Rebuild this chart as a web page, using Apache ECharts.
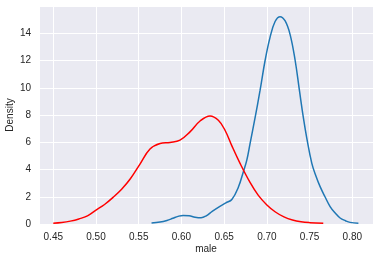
<!DOCTYPE html>
<html>
<head>
<meta charset="utf-8">
<script src="https://cdn.jsdelivr.net/npm/echarts@6/dist/echarts.min.js"></script>
<style>html,body{margin:0;padding:0;background:#fff}#c{width:380px;height:260px}</style>
</head>
<body>
<div id="c"></div>
<script>
var blueX = [0.565,0.575,0.583,0.590,0.596,0.602,0.609,0.616,0.623,0.629,0.636,0.645,0.652,0.659,0.6666,0.6725,0.6765,0.6803,0.6862,0.692,0.6979,0.7037,0.7096,0.7155,0.7214,0.7272,0.7331,0.7381,0.7427,0.7467,0.7526,0.7575,0.7623,0.768,0.774,0.780,0.7857,0.792,0.7974,0.8071];
var blueY = [0.07,0.14,0.26,0.42,0.56,0.63,0.60,0.50,0.46,0.60,0.93,1.30,1.55,1.80,2.70,3.84,4.69,5.90,7.80,9.80,12.0,13.7,14.86,15.22,14.9,13.9,12.0,9.8,7.8,6.3,4.45,3.5,2.74,2.0,1.28,0.8,0.44,0.24,0.12,0.06];
var redX = [0.450,0.460,0.470,0.480,0.490,0.500,0.510,0.520,0.530,0.540,0.5515,0.5632,0.575,0.5866,0.5983,0.610,0.6218,0.6335,0.6432,0.651,0.6589,0.6686,0.6803,0.690,0.700,0.710,0.720,0.730,0.740,0.750,0.766];
var redY = [0.06,0.11,0.21,0.37,0.60,1.02,1.43,1.95,2.55,3.30,4.40,5.50,5.91,5.99,6.15,6.76,7.56,7.93,7.61,6.88,5.75,4.45,3.05,2.10,1.40,0.88,0.52,0.29,0.16,0.10,0.06];
var xTitle = 'male';
var yTitle = 'Density';

function pairs(xs, ys){ return xs.map(function(x,i){ return [x, ys[i]]; }); }

var chart = echarts.init(document.getElementById('c'), null, {renderer:'canvas'});
var font = 'Liberation Sans, Arial, sans-serif';
chart.setOption({
  animation: false,
  grid: {left: 39, right: 7, top: 6, bottom: 36, show: true, backgroundColor: '#eaeaf2', borderWidth: 0,
         containLabel: false, outerBoundsMode: 'none'},
  xAxis: {
    type: 'value', min: 0.4333, max: 0.8242, splitNumber: 8,
    name: xTitle, nameLocation: 'middle', nameGap: 20, nameMoveOverlap: false,
    nameTextStyle: {color: '#262626', fontSize: 10, fontFamily: font},
    axisLine: {show: false}, axisTick: {show: false},
    axisLabel: {color: '#262626', fontSize: 10, fontFamily: font, margin: 8,
      formatter: function(v){ return Math.abs(v*20 - Math.round(v*20)) < 1e-6 ? v.toFixed(2) : ''; }},
    splitLine: {show: true, lineStyle: {color: '#ffffff', width: 1}}
  },
  yAxis: {
    type: 'value', min: 0, max: 16, interval: 2,
    name: yTitle, nameLocation: 'middle', nameGap: 24, nameRotate: 90, nameMoveOverlap: false,
    nameTextStyle: {color: '#262626', fontSize: 10, fontFamily: font},
    axisLine: {show: false}, axisTick: {show: false},
    axisLabel: {color: '#262626', fontSize: 10, fontFamily: font, margin: 8,
      formatter: function(v){ return v >= 16 ? '' : String(v); }},
    splitLine: {show: true, lineStyle: {color: '#ffffff', width: 1}}
  },
  series: [
    {type: 'line', data: pairs(blueX, blueY), showSymbol: false, smooth: 0.4,
     lineStyle: {color: '#1f77b4', width: 1.5}, itemStyle: {color: '#1f77b4'}},
    {type: 'line', data: pairs(redX, redY), showSymbol: false, smooth: 0.4,
     lineStyle: {color: '#ff0000', width: 1.5}, itemStyle: {color: '#ff0000'}}
  ]
});
</script>
</body>
</html>
